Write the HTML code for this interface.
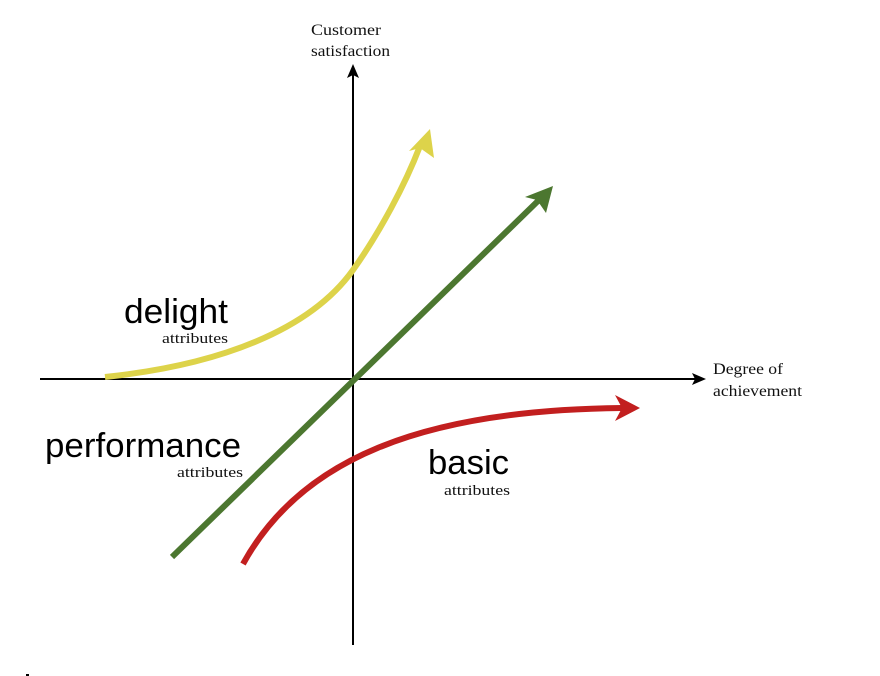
<!DOCTYPE html>
<html><head><meta charset="utf-8"><style>
html,body{margin:0;padding:0;background:#fff;}
svg{display:block}
.serif{font-family:"Liberation Serif",serif;fill:#111}
.sans{font-family:"Liberation Sans",sans-serif;fill:#000}
</style></head><body>
<svg width="880" height="676" viewBox="0 0 880 676" xmlns="http://www.w3.org/2000/svg">
<line x1="353" y1="645" x2="353" y2="72" stroke="#000" stroke-width="2"/>
<polygon points="353,64 347,78 353,75 359,78" fill="#000"/>
<line x1="40" y1="379" x2="698" y2="379" stroke="#000" stroke-width="2"/>
<polygon points="706,379 692,373 695,379 692,385" fill="#000"/>
<!-- yellow -->
<path d="M105,377 C220,365 310,330 353,270 C380,232 405,185 420,146" fill="none" stroke="#ddd34a" stroke-width="6"/>
<polygon points="430,129 409,151 420,148 434,158" fill="#ddd34a"/>
<!-- green -->
<line x1="172" y1="557" x2="540" y2="199" stroke="#4c7730" stroke-width="6"/>
<polygon points="553,186 525,197 537,200 546,213" fill="#4c7730"/>
<!-- red -->
<path d="M243,564 C300,460 420,410 622,408" fill="none" stroke="#c21f1f" stroke-width="6"/>
<polygon points="640,408 615,395 622,408 615,421" fill="#c21f1f"/>
<!-- labels -->
<text class="serif" x="311" y="35" font-size="16" textLength="70" lengthAdjust="spacingAndGlyphs">Customer</text>
<text class="serif" x="311" y="56" font-size="16" textLength="79" lengthAdjust="spacingAndGlyphs">satisfaction</text>
<text class="serif" x="713" y="374" font-size="16" textLength="70" lengthAdjust="spacingAndGlyphs">Degree of</text>
<text class="serif" x="713" y="396" font-size="16" textLength="89" lengthAdjust="spacingAndGlyphs">achievement</text>
<text class="sans" x="124" y="323" font-size="34" textLength="104" lengthAdjust="spacingAndGlyphs">delight</text>
<text class="serif" x="162" y="343" font-size="15" textLength="66" lengthAdjust="spacingAndGlyphs">attributes</text>
<text class="sans" x="45" y="457" font-size="34" textLength="196" lengthAdjust="spacingAndGlyphs">performance</text>
<text class="serif" x="177" y="477" font-size="15" textLength="66" lengthAdjust="spacingAndGlyphs">attributes</text>
<text class="sans" x="428" y="474" font-size="34" textLength="81" lengthAdjust="spacingAndGlyphs">basic</text>
<text class="serif" x="444" y="495" font-size="15" textLength="66" lengthAdjust="spacingAndGlyphs">attributes</text>
<rect x="26" y="674" width="3" height="2" fill="#000"/>
</svg>
</body></html>
